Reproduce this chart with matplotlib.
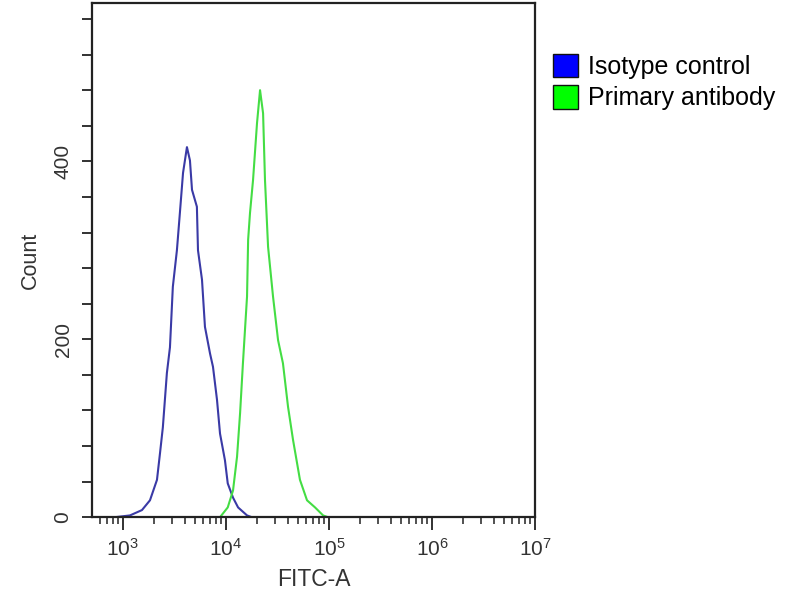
import numpy as np
import matplotlib
matplotlib.use("Agg")
import matplotlib.pyplot as plt
from matplotlib.patches import Patch
from matplotlib.ticker import LogLocator, FixedLocator, MultipleLocator, NullFormatter

plt.rcParams['font.family'] = ['Liberation Sans', 'DejaVu Sans']
plt.rcParams['mathtext.fontset'] = 'custom'
plt.rcParams['mathtext.rm'] = 'Liberation Sans'
plt.rcParams['mathtext.it'] = 'Liberation Sans'

# ---------------------------------------------------------------
# data (FITC-A intensity, count)
# ---------------------------------------------------------------
iso_fitc = [836, 1170, 1530, 1830, 2140, 2290, 2440, 2670, 2860, 3050,
            3340, 3570, 3830, 4180, 4470, 4680, 5220, 5350, 5850, 6250,
            7000, 7480, 8180, 8750, 9770, 10400, 11700, 13100, 16000, 17800]
iso_count = [0, 2, 8, 19, 42, 72, 101, 162, 191, 259,
             300, 342, 387, 416, 401, 368, 349, 300, 267, 214,
             184, 169, 132, 94, 64, 38, 22, 11, 2, 0]

prim_fitc = [8750, 10400, 11700, 12800, 13700, 14600, 16000, 16400, 17100, 18300,
             20000, 21400, 22900, 23900, 25600, 28600, 32000, 35700, 40000, 44700,
             52200, 61100, 73100, 87500, 97700]
prim_count = [0, 11, 30, 68, 117, 173, 248, 312, 342, 379,
              443, 480, 454, 379, 304, 248, 199, 173, 124, 87,
              42, 19, 11, 2, 0]

series_labels = ["Isotype control", "Primary antibody"]
legend_colors = ["#0000ff", "#00ff00"]
line_colors = ["#3a3aa6", "#44dd44"]
decades = [3, 4, 5, 6, 7]

# ---------------------------------------------------------------
# plot
# ---------------------------------------------------------------
fig = plt.figure(figsize=(8, 6), dpi=100)
ax = fig.add_axes([0.115, 0.138, 0.554, 0.857])

ax.plot(iso_fitc, iso_count, color=line_colors[0], lw=1.5)
ax.plot(prim_fitc, prim_count, color=line_colors[1], lw=1.5)

ax.set_xscale("log")
ax.set_xlim(10 ** 2.7, 1e7)
ax.set_ylim(0, 578)

ax.xaxis.set_major_locator(FixedLocator([10.0 ** d for d in decades]))
ax.set_xticklabels([r"$10^{%d}$" % d for d in decades])
ax.xaxis.set_minor_locator(LogLocator(base=10, subs=np.arange(2, 10), numticks=20))
ax.xaxis.set_minor_formatter(NullFormatter())

ax.yaxis.set_major_locator(FixedLocator([0, 200, 400]))
ax.yaxis.set_minor_locator(MultipleLocator(40))

for s in ax.spines.values():
    s.set_linewidth(1.6)
    s.set_color("#222222")

ax.tick_params(axis="x", which="major", direction="out", length=9, width=1.3,
               labelsize=15, colors="#222222", labelcolor="#333333", pad=6)
ax.tick_params(axis="x", which="minor", direction="out", length=5, width=1.1, colors="#222222")
ax.tick_params(axis="y", which="both", direction="out", length=7, width=1.3,
               labelsize=15, colors="#222222", labelcolor="#333333", pad=7)
for lab in ax.get_yticklabels():
    lab.set_rotation(90)
    lab.set_va("center")

ax.set_xlabel("FITC-A", fontsize=16.5, color="#333333", labelpad=6)
ax.set_ylabel("Count", fontsize=15.5, color="#333333", labelpad=9)

handles = [Patch(facecolor=c, edgecolor="#111111", lw=1.0) for c in legend_colors]
fig.legend(handles, series_labels, loc="upper left", bbox_to_anchor=(0.691, 0.910),
           frameon=False, fontsize=18, handlelength=1.0, handleheight=1.05,
           handletextpad=0.4, labelspacing=0.25, borderpad=0, borderaxespad=0)

fig.savefig("out.png", dpi=100)
